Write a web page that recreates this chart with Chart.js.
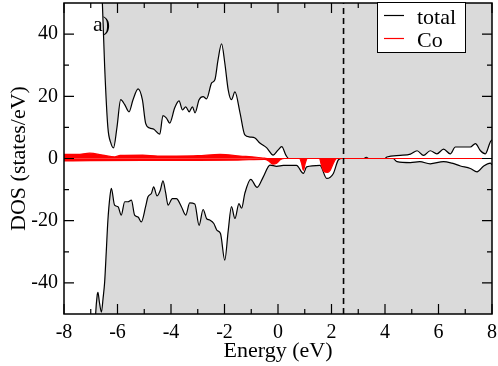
<!DOCTYPE html>
<html>
<head>
<meta charset="utf-8">
<script src="https://cdn.jsdelivr.net/npm/chart.js@4"></script>
<style>
  html, body { margin: 0; padding: 0; background: #fff; }
  #wrap { width: 498px; height: 366px; }
</style>
</head>
<body>
<div id="wrap"><canvas id="dos" width="498" height="366"></canvas></div>
<script>
// ── Data ──────────────────────────────────────────────────────
const totalUpE = [-8, -6.66, -6.6, -6.57, -6.48, -6.36, -6.25, -6.15, -6.02, -5.88, -5.73, -5.57, -5.42, -5.23, -5.07,
  -4.95, -4.8, -4.64, -4.42, -4.3, -4.17, -4.05, -3.86, -3.7, -3.57, -3.45, -3.32, -3.2, -3.1, -2.95, -2.8, -2.67,
  -2.48, -2.36, -2.24, -2.11, -1.99, -1.86, -1.74, -1.61, -1.42, -1.24, -1.05, -0.86, -0.68, -0.42, -0.18, 0.0, 0.14,
  0.3, 0.4, 3.2, 3.3, 3.4, 4.0, 4.07, 4.57, 4.95, 5.2, 5.44, 5.69, 5.94, 6.19, 6.44, 6.63, 7.19, 7.38, 7.57, 7.75, 7.94, 8];
const totalUp = [80, 80, 60, 51, 29.5, 10, 5, 3.4, 10, 18.9, 17.3, 15, 18.9, 22.4, 18.9,
  11.4, 9.8, 9.4, 7.8, 13.8, 13, 11.4, 16.3, 18.5, 15.6, 16.6, 15, 16.6, 14.7, 18.9, 19.9, 19.2,
  24.3, 25.3, 31.8, 36.9, 30.8, 22, 18.9, 21.4, 14.7, 7.6, 6.9, 6.6, 5, 3.4, 1.1, 2.7, 3.8,
  1, 0, 0, 0.4, 0, 0, 0.5, 1, 1.4, 2.5, 1, 2.5, 1.5, 3, 1.5, 3.7, 3.7, 4.8, 2.5, 1.5, 5.4, 6];

const totalDownE = [-8, -6.86, -6.82, -6.76, -6.73, -6.68, -6.6, -6.54, -6.48, -6.42, -6.36, -6.28, -6.23, -6.11, -5.98,
  -5.86, -5.73, -5.61, -5.48, -5.36, -5.23, -5.11, -4.95, -4.86, -4.73, -4.65, -4.52, -4.4, -4.3, -4.2, -4.11,
  -3.95, -3.8, -3.61, -3.45, -3.3, -3.11, -2.95, -2.8, -2.67, -2.55, -2.4, -2.28, -2.15, -1.99, -1.86, -1.74,
  -1.61, -1.46, -1.36, -1.24, -1.02, -0.78, -0.55, -0.3, -0.05, 0.2, 0.69, 0.95, 1.07, 1.57, 1.82, 2.07, 2.26,
  2.4, 4.3, 4.45, 4.95, 5.3, 5.69, 6.19, 6.5, 6.82, 7.19, 7.44, 7.69, 7.94, 8];
const totalDown = [-80, -60, -50.5, -44, -43, -46, -49.4, -45, -39.7, -30, -20, -12, -9.6, -15, -15.5,
  -18.2, -13.9, -13.9, -13.4, -18.2, -18.8, -20.4, -15.5, -12.3, -11.2, -9.1, -12, -10.2, -7.2, -11, -15,
  -12.9, -12.9, -15.5, -18.2, -14.3, -14.6, -21.5, -16.4, -19.3, -19.8, -20.9, -23.1, -24.1, -32.7, -23.1, -15.5,
  -19.3, -14.5, -16, -11.2, -6.7, -9.3, -5.9, -2.1, -2.5, -2.2, -2.2, -4.8, -2.7, -2.2, -6.4, -4.8, -0.4,
  0, 0, -1, -1.3, -1, -1.7, -1, -1.5, -2.4, -3.2, -4.3, -2.4, -1.5, -2];

const coUpE = [-8, -7.5, -7.04, -6.55, -6.1, -5.9, -5.06, -4.5, -3.8, -3.0, -2.17, -1.42, -0.8, -0.5, -0.35, 8];
const coUp  = [1.3, 1.3, 1.7, 1.1, 0.5, 1, 1.1, 0.8, 0.8, 0.9, 1.3, 0.8, 0.4, 0.1, 0, 0];

const coDownE = [-8, -7, -5, -3, -1.5, -0.5, -0.35, -0.2, -0.05, 0.1, 0.25, 0.8, 0.88, 0.95, 1.02, 1.1,
  1.55, 1.62, 1.72, 1.85, 1.95, 2.1, 2.2, 8];
const coDown  = [-0.8, -0.7, -0.6, -0.6, -0.5, -0.3, -0.8, -1.8, -1.5, -0.3, 0, 0, -1.5, -3.8, -1.5, 0,
  0, -2, -4.2, -4.5, -3.8, -1, 0, 0];

const fermiE = 2.45;

const xMajorTicks = [-8, -6, -4, -2, 0, 2, 4, 6, 8];
const xMinorTicks = [-7, -5, -3, -1, 1, 3, 5, 7];
const yMajorTicks = [-40, -20, 0, 20, 40];
const yMinorTicks = [-30, -10, 10, 30];

const legendLabels = ['total', 'Co'];
const legendColors = ['#000000', '#ff0000'];

// ── Helpers ───────────────────────────────────────────────────
const pts = (xs, ys) => xs.map((x, i) => ({ x, y: ys[i] }));
const SERIF = "'Liberation Serif', 'Times New Roman', serif";
const GRAY  = '#dadada';

const curve = (label, data, line, fillColor, order) => ({
  label,
  data,
  borderColor: line,
  backgroundColor: fillColor,
  borderWidth: 1.2,
  pointRadius: 0,
  cubicInterpolationMode: 'monotone',
  fill: 'origin',
  clip: 0,
  order,
});

// ── Plugins: gray background, frame/ticks, legend, panel label ─
const frameDecor = {
  id: 'frameDecor',
  beforeDatasetsDraw(chart) {
    const { ctx, chartArea: a } = chart;
    ctx.save();
    ctx.fillStyle = GRAY;
    ctx.fillRect(a.left, a.top, a.right - a.left, a.bottom - a.top);
    ctx.restore();
  },
  afterDatasetsDraw(chart) {
    const { ctx, chartArea: a, scales } = chart;
    ctx.save();
    ctx.strokeStyle = '#000';
    ctx.lineWidth = 1.2;
    const tickX = (vals, len) => vals.forEach(v => {
      const px = scales.x.getPixelForValue(v);
      ctx.beginPath();
      ctx.moveTo(px, a.bottom); ctx.lineTo(px, a.bottom - len);
      ctx.moveTo(px, a.top);    ctx.lineTo(px, a.top + len);
      ctx.stroke();
    });
    const tickY = (vals, len) => vals.forEach(v => {
      const py = scales.y.getPixelForValue(v);
      ctx.beginPath();
      ctx.moveTo(a.left, py);  ctx.lineTo(a.left + len, py);
      ctx.moveTo(a.right, py); ctx.lineTo(a.right - len, py);
      ctx.stroke();
    });
    tickX(xMajorTicks, 10); tickX(xMinorTicks, 5);
    tickY(yMajorTicks, 10); tickY(yMinorTicks, 5);
    ctx.lineWidth = 1.5;
    ctx.strokeRect(a.left, a.top, a.right - a.left, a.bottom - a.top);
    ctx.restore();
  },
  afterDraw(chart) {
    const { ctx } = chart;
    ctx.save();
    // panel label
    ctx.fillStyle = '#000';
    ctx.font = `22px ${SERIF}`;
    ctx.textBaseline = 'alphabetic';
    ctx.fillText('a)', 93, 31);
    // legend box
    ctx.fillStyle = '#fff';
    ctx.fillRect(377.5, 2.5, 88, 50);
    ctx.strokeStyle = '#000';
    ctx.lineWidth = 1;
    ctx.strokeRect(377.5, 2.5, 88, 50);
    const rows = [15, 38];
    legendLabels.forEach((lab, i) => {
      ctx.strokeStyle = legendColors[i];
      ctx.lineWidth = 1.2;
      ctx.beginPath();
      ctx.moveTo(384, rows[i] + 0.5); ctx.lineTo(404, rows[i] + 0.5);
      ctx.stroke();
      ctx.fillStyle = '#000';
      ctx.fillText(lab, 417, rows[i] + 9);
    });
    ctx.restore();
  },
};

// ── Chart ─────────────────────────────────────────────────────
new Chart(document.getElementById('dos'), {
  type: 'line',
  data: {
    datasets: [
      {
        label: 'EF',
        data: [{ x: fermiE, y: -50 }, { x: fermiE, y: 50 }],
        borderColor: '#000',
        borderWidth: 1.6,
        borderDash: [6, 4],
        pointRadius: 0,
        fill: false,
        order: 0,
      },
      curve('Co down', pts(coDownE, coDown), '#ff0000', '#ff0000', 1),
      curve('Co', pts(coUpE, coUp), '#ff0000', '#ff0000', 2),
      curve('total down', pts(totalDownE, totalDown), '#000', '#ffffff', 3),
      curve('total', pts(totalUpE, totalUp), '#000', '#ffffff', 4),
    ],
  },
  options: {
    responsive: false,
    animation: false,
    events: [],
    layout: { padding: { top: 3, right: 6, bottom: 0, left: 0 } },
    plugins: { legend: { display: false }, tooltip: { enabled: false } },
    scales: {
      x: {
        type: 'linear',
        min: -8,
        max: 8,
        afterBuildTicks: s => { s.ticks = xMajorTicks.map(value => ({ value })); },
        afterFit: s => { s.height = 52; s.paddingLeft = 0; s.paddingRight = 0; },
        grid: { display: false, drawTicks: false },
        border: { display: false },
        ticks: { color: '#000', font: { family: SERIF, size: 20 }, padding: 7, maxRotation: 0,
                 callback: v => String(v) },
        title: { display: true, text: 'Energy (eV)', color: '#000',
                 font: { family: SERIF, size: 22 }, padding: { top: 0, bottom: 2 } },
      },
      y: {
        type: 'linear',
        min: -50,
        max: 50,
        afterBuildTicks: s => { s.ticks = yMajorTicks.map(value => ({ value })); },
        afterFit: s => { s.width = 64; s.paddingTop = 0; s.paddingBottom = 0; },
        grid: { display: false, drawTicks: false },
        border: { display: false },
        ticks: { color: '#000', font: { family: SERIF, size: 20 }, padding: 6,
                 callback: v => String(v) },
        title: { display: true, text: 'DOS (states/eV)', color: '#000',
                 font: { family: SERIF, size: 22 }, padding: { top: 6, bottom: 0 } },
      },
    },
  },
  plugins: [frameDecor],
});
</script>
</body>
</html>
